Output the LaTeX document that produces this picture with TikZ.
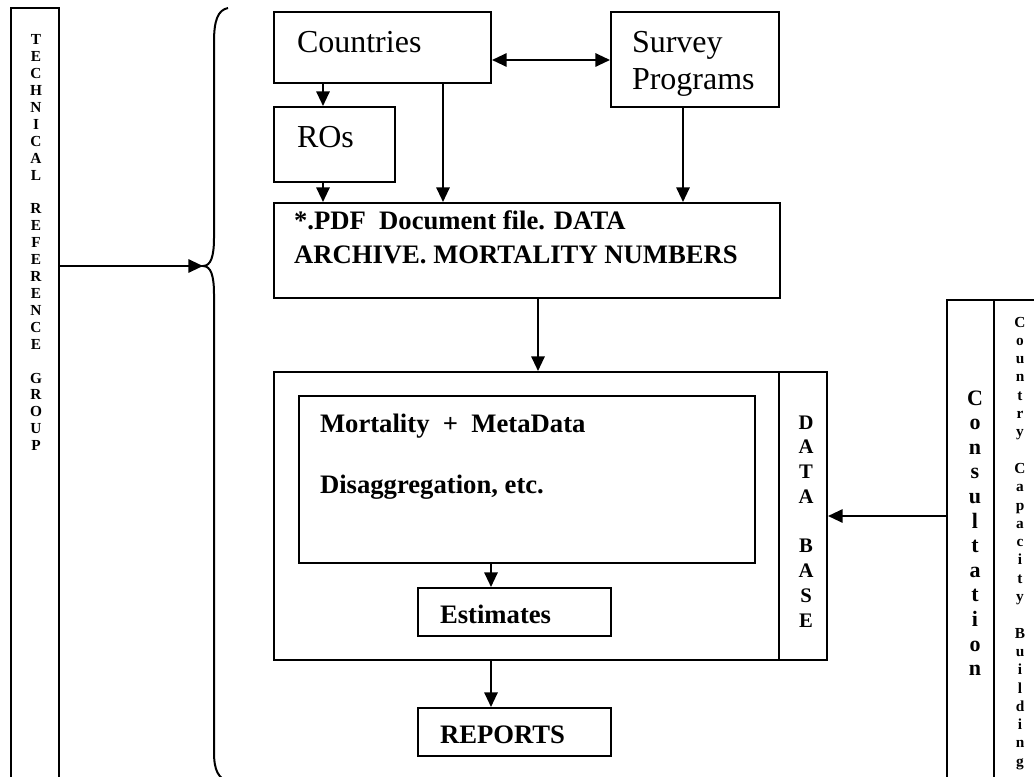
\documentclass[tikz,border=0pt]{standalone}
\usepackage{fontspec}
\setmainfont{Liberation Serif}
\usetikzlibrary{arrows.meta,fit,calc}
\begin{document}
\begin{tikzpicture}[x=0.75pt,y=-0.75pt,
  line width=1.5pt,
  box/.style={draw, line width=1.5pt, inner sep=0pt},
  arr/.style={-{Triangle[length=11pt,width=10pt]}},
  darr/.style={{Triangle[length=11pt,width=10pt]}-{Triangle[length=11pt,width=10pt]}},
  big/.style={font=\fontsize{24}{28}\selectfont, anchor=base west, inner sep=0pt},
  bold/.style={font=\fontsize{20}{24}\selectfont\bfseries, anchor=base west, inner sep=0pt},
  trgl/.style={font=\fontsize{11.5}{13}\selectfont\bfseries, anchor=base, inner sep=0pt},
  dbl/.style={font=\fontsize{15.5}{17}\selectfont\bfseries, anchor=base, inner sep=0pt},
  consl/.style={font=\fontsize{16.5}{19}\selectfont\bfseries, anchor=base, inner sep=0pt},
  ccbl/.style={font=\fontsize{11.5}{13}\selectfont\bfseries, anchor=base, inner sep=0pt}
]
\useasboundingbox (0,0) rectangle (1034,777);
\clip (0,0) rectangle (1034,777);

% boxes
\node[box, fit={(11,8)(59,800)}] (trg) {};
\node[box, fit={(274,12)(491,83)}] (countries) {};
\node[big] (countriest) at (296,53) {Countries};
\node[box, fit={(611,12)(779,107)}] (survey) {};
\node[big] (surveyt) at (631,53) {Survey};
\node[big] (programst) at (631,90) {Programs};
\node[box, fit={(274,107)(395,182)}] (ros) {};
\node[big] (rost) at (296,148) {ROs};
\node[box, fit={(274,203)(780,298)}] (pdf) {};
\node[bold] (pdf1) at (293,229) {*.PDF\ \ Document file. DATA};
\node[bold] (pdf2) at (293,263) {ARCHIVE. MORTALITY NUMBERS};
\node[box, fit={(274,372)(779,660)}] (outer) {};
\node[box, fit={(779,372)(827,660)}] (db) {};
\node[box, fit={(299,396)(755,563)}] (inner) {};
\node[bold] (mort) at (319,432) {Mortality\ \ +\ \ MetaData};
\node[bold] (disag) at (319,493) {Disaggregation, etc.};
\node[box, fit={(418,588)(611,636)}] (est) {};
\node[bold] (estt) at (439,623) {Estimates};
\node[box, fit={(418,708)(611,756)}] (rep) {};
\node[bold] (rept) at (439,743) {REPORTS};
\node[box, fit={(947,300)(994,800)}] (cons) {};
\node[box, fit={(994,300)(1070,800)}] (ccb) {};

% vertical texts
\foreach \ch [count=\i from 0] in {T,E,C,H,N,I,C,A,L,{},R,E,F,E,R,E,N,C,E,{},G,R,O,U,P}
  \node[trgl] (trg\i) at (36,45+\i*16.9) {\ch};
\foreach \ch [count=\i from 0] in {D,A,T,A,{},B,A,S,E}
  \node[dbl] (db\i) at (806,429+\i*24.75) {\ch};
\foreach \ch [count=\i from 0] in {C,o,n,s,u,l,t,a,t,i,o,n}
  \node[consl] (cons\i) at (975,405+\i*24.6) {\ch};
\foreach \ch [count=\i from 0] in {C,o,u,n,t,r,y,{},C,a,p,a,c,i,t,y,{},B,u,i,l,d,i,n,g}
  \node[ccbl] (ccb\i) at (1020,327+\i*18.3) {\ch};

% brace
\coordinate (tip) at (203,266);
\draw (228,8) .. controls (218,10) and (214,20) .. (214,42) -- (214,238)
  .. controls (214,256) and (211,266) .. (tip)
  .. controls (211,266) and (214,276) .. (214,294) -- (214,752)
  .. controls (214,770) and (218,779) .. (230,782);

% helper coordinates
\coordinate (xa) at (323,0);
\coordinate (xb) at (443,0);
\coordinate (xc) at (683,0);
\coordinate (xd) at (538,0);
\coordinate (xe) at (491,0);
\coordinate (ya) at (0,60);
\coordinate (yb) at (0,266);
\coordinate (yc) at (0,516);

% connectors
\draw[darr] (countries.east |- ya) -- (survey.west |- ya);
\draw[arr] (countries.south -| xa) -- (ros.north -| xa);
\draw[arr] (ros.south -| xa) -- (pdf.north -| xa);
\draw[arr] (countries.south -| xb) -- (pdf.north -| xb);
\draw[arr] (survey.south -| xc) -- (pdf.north -| xc);
\draw[arr] (pdf.south -| xd) -- (outer.north -| xd);
\draw[arr] (inner.south -| xe) -- (est.north -| xe);
\draw[arr] (outer.south -| xe) -- (rep.north -| xe);
\draw[arr] (cons.west |- yc) -- (db.east |- yc);
\draw[arr] (trg.east |- yb) -- (tip);
\end{tikzpicture}
\end{document}
